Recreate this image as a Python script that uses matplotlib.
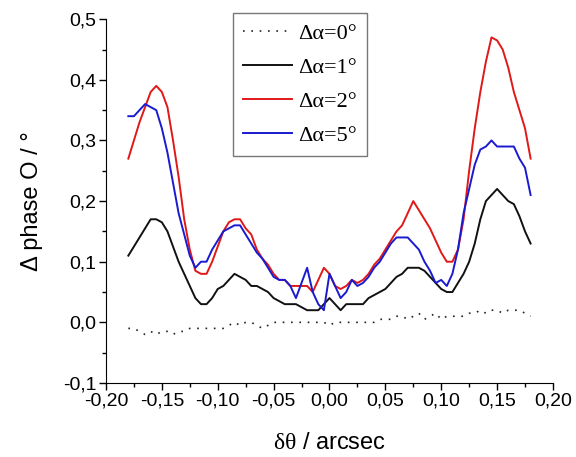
import numpy as np
import matplotlib
matplotlib.use("Agg")
import matplotlib.pyplot as plt
from matplotlib.ticker import MultipleLocator, FuncFormatter

# sampled every 0.005 arcsec from -0.18 to 0.18
d_theta = np.round(np.arange(-0.18, 0.18 + 1e-9, 0.005), 3)

phase_0 = [
    -0.01, -0.01, -0.015, -0.02, -0.015, -0.02, -0.015, -0.015, -0.02, -0.015,
    -0.015, -0.01, -0.01, -0.01, -0.01, -0.01, -0.01, -0.01, -0.005, 0.0,
    -0.005, 0.0, 0.0, -0.005, -0.01, -0.005, 0.0, 0.0, 0.0, 0.0,
    0.0, 0.0, 0.0, 0.0, 0.0, 0.0, -0.005, 0.0, 0.0, 0.0,
    0.0, 0.0, 0.0, 0.0, 0.0, 0.005, 0.005, 0.005, 0.01, 0.01,
    0.005, 0.01, 0.015, 0.005, 0.01, 0.015, 0.005, 0.01, 0.01, 0.01,
    0.01, 0.015, 0.015, 0.02, 0.015, 0.02, 0.02, 0.015, 0.02, 0.02,
    0.02, 0.015, 0.01,
]
phase_1 = [
    0.11, 0.125, 0.14, 0.155, 0.17, 0.17, 0.165, 0.15, 0.125, 0.10,
    0.08, 0.06, 0.04, 0.03, 0.03, 0.04, 0.055, 0.06, 0.07, 0.08,
    0.075, 0.07, 0.06, 0.06, 0.055, 0.05, 0.04, 0.035, 0.03, 0.03,
    0.03, 0.025, 0.02, 0.02, 0.02, 0.03, 0.04, 0.03, 0.02, 0.03,
    0.03, 0.03, 0.03, 0.04, 0.045, 0.05, 0.055, 0.065, 0.075, 0.08,
    0.09, 0.09, 0.09, 0.085, 0.075, 0.065, 0.055, 0.05, 0.05, 0.065,
    0.08, 0.10, 0.13, 0.17, 0.20, 0.21, 0.22, 0.21, 0.20, 0.195,
    0.175, 0.15, 0.13,
]
phase_2 = [
    0.27, 0.30, 0.33, 0.355, 0.38, 0.39, 0.38, 0.355, 0.30, 0.24,
    0.17, 0.12, 0.085, 0.08, 0.08, 0.10, 0.125, 0.15, 0.165, 0.17,
    0.17, 0.155, 0.145, 0.12, 0.105, 0.095, 0.08, 0.07, 0.07, 0.06,
    0.06, 0.06, 0.06, 0.05, 0.07, 0.09, 0.08, 0.06, 0.055, 0.06,
    0.07, 0.065, 0.07, 0.08, 0.095, 0.105, 0.12, 0.135, 0.15, 0.16,
    0.18, 0.20, 0.185, 0.17, 0.155, 0.135, 0.115, 0.10, 0.10, 0.12,
    0.17, 0.25, 0.32, 0.38, 0.43, 0.47, 0.465, 0.45, 0.42, 0.38,
    0.35, 0.32, 0.27,
]
phase_5 = [
    0.34, 0.34, 0.35, 0.36, 0.355, 0.35, 0.32, 0.28, 0.23, 0.18,
    0.145, 0.11, 0.09, 0.10, 0.10, 0.12, 0.135, 0.15, 0.155, 0.16,
    0.16, 0.145, 0.13, 0.115, 0.105, 0.09, 0.075, 0.07, 0.07, 0.06,
    0.04, 0.065, 0.09, 0.05, 0.03, 0.02, 0.08, 0.06, 0.04, 0.05,
    0.07, 0.06, 0.065, 0.075, 0.09, 0.10, 0.115, 0.13, 0.14, 0.14,
    0.14, 0.13, 0.12, 0.10, 0.085, 0.065, 0.07, 0.06, 0.08, 0.12,
    0.18, 0.22, 0.26, 0.285, 0.29, 0.30, 0.29, 0.29, 0.29, 0.29,
    0.27, 0.255, 0.21,
]

labels = ["Δα=0°", "Δα=1°", "Δα=2°", "Δα=5°"]

plt.rcParams['font.family'] = ['Liberation Sans', 'DejaVu Sans']
plt.rcParams['mathtext.fontset'] = 'custom'
plt.rcParams['mathtext.rm'] = 'Liberation Serif'

fig = plt.figure(figsize=(5.76, 4.57), dpi=100)
ax = fig.add_axes([0.184, 0.162, 0.776, 0.796])

ax.plot(d_theta, phase_0, color='#222222', lw=1.2, linestyle=(0, (1, 4)), label=labels[0])
ax.plot(d_theta, phase_1, color='#111111', lw=1.4, label=labels[1])
ax.plot(d_theta, phase_2, color='#e01818', lw=1.4, label=labels[2])
ax.plot(d_theta, phase_5, color='#1a1ad0', lw=1.4, label=labels[3])

ax.set_xlim(-0.2, 0.2)
ax.set_ylim(-0.1, 0.5)
ax.spines['top'].set_visible(False)
ax.spines['right'].set_visible(False)

ax.xaxis.set_major_locator(MultipleLocator(0.05))
ax.xaxis.set_minor_locator(MultipleLocator(0.025))
ax.yaxis.set_major_locator(MultipleLocator(0.1))
ax.yaxis.set_minor_locator(MultipleLocator(0.05))
ax.xaxis.set_major_formatter(FuncFormatter(lambda v, p: f"{v:.2f}".replace('.', ',').replace('-0,00', '0,00')))
ax.yaxis.set_major_formatter(FuncFormatter(lambda v, p: f"{v:.1f}".replace('.', ',').replace('-0,0', '0,0')))
ax.tick_params(which='major', direction='out', length=5, width=1, labelsize=14, pad=2)
ax.tick_params(which='minor', direction='out', length=3, width=1)

ax.set_xlabel(r"$\mathrm{\delta\theta}$ / arcsec", fontsize=17, labelpad=16)
ax.set_ylabel("Δ phase O / °", fontsize=17, labelpad=14)

leg = ax.legend(loc='upper left', bbox_to_anchor=(0.284, 1.016), borderaxespad=0,
                prop={'family': 'Liberation Serif', 'size': 16}, fancybox=False,
                edgecolor='#777777', framealpha=1, handlelength=2.2,
                handletextpad=0.3, labelspacing=0.6, borderpad=0.45)
leg.get_frame().set_linewidth(1.0)

fig.savefig("out.png", dpi=100)
